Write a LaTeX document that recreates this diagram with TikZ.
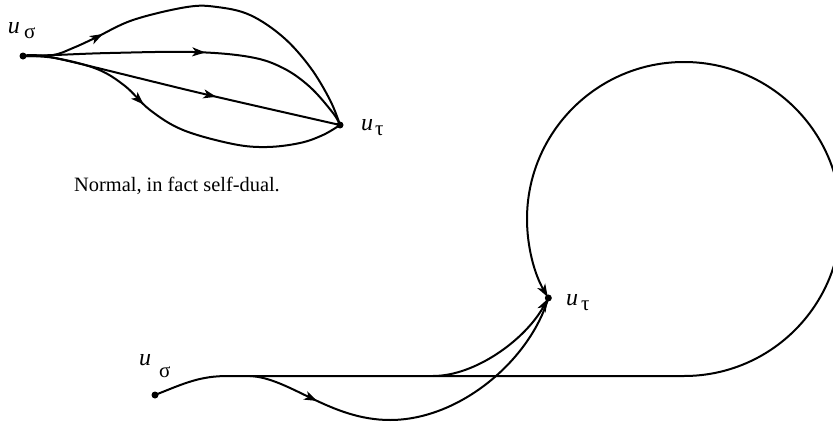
\documentclass[tikz,border=0pt]{standalone}
\usepackage{fontspec}
\setmainfont{Liberation Serif}
\usetikzlibrary{arrows.meta,decorations.markings,calc}
\begin{document}
\begin{tikzpicture}[x=1pt,y=1pt,
  line width=2pt, line cap=round,
  >={Stealth[length=13pt,width=9pt,inset=3.5pt]},
  dot/.style={circle,fill,inner sep=0pt,minimum size=7pt},
  midarrow/.style={postaction={decorate},decoration={markings,mark=at position #1 with {\arrow{>}}}},
  tipend/.style={-{Stealth[length=13pt,width=9pt,inset=3.5pt]}, shorten >=1pt},
  lbl/.style={anchor=base west,inner sep=0pt,font=\fontsize{24}{24}\selectfont},
  subl/.style={anchor=base west,inner sep=0pt,font=\fontsize{21}{21}\selectfont},
  caption/.style={anchor=base,inner sep=0pt,font=\fontsize{20.4}{24}\selectfont}]
\useasboundingbox (0,0) rectangle (833,-423);

% ---------- top graph ----------
\node[dot] (s1) at (23,-56) {};
\node[dot] (t1) at (340,-125) {};
\node[lbl] (ls1u) at (7,-33) {\itshape u};
\node[subl] (ls1s) at (23,-38) {σ};
\node[lbl] (lt1u) at (360,-130) {\itshape u};
\node[subl] (lt1s) at (374,-135) {τ};

\draw[midarrow=0.22] plot[smooth,tension=0.6] coordinates {(s1.center) (53,-55) (73,-48) (95,-38) (133,-20) (187,-7) (217,-7) (250,-15) (283,-37) (310,-67) (330,-100) (t1.center)};
\draw[midarrow=0.53] plot[smooth,tension=0.6] coordinates {(s1.center) (55,-55) (110,-53) (193,-52) (250,-57) (283,-68) (310,-87) (333,-113) (t1.center)};
\draw[midarrow=0.61] plot[smooth,tension=0.5] coordinates {(s1.center) (55,-58) (200,-93) (t1.center)};
\draw[midarrow=0.39] plot[smooth,tension=0.6] coordinates {(s1.center) (55,-58) (97,-69) (125,-86) (150,-110) (183,-130) (233,-144) (267,-147) (300,-143) (323,-135) (t1.center)};

\node[caption] (cap) at (177,-191) {Normal, in fact self-dual.};

% ---------- bottom graph ----------
\coordinate (cc) at (684,-219);
\coordinate (t2) at ($(cc)+(210.2:157pt)$);
\coordinate (hb) at (433,-376);
\coordinate (hc) at (250,-376);
\node[dot] (s2) at (155,-395) {};
\node[dot] (t2d) at (t2) {};
\node[lbl] (ls2u) at (138,-365) {\itshape u};
\node[subl] (ls2s) at (158,-377) {σ};
\node[lbl] (lt2u) at (565,-305) {\itshape u};
\node[subl] (lt2s) at (580,-310) {τ};

\draw[tipend] (s2.center) .. controls (185,-383) and (200,-376) .. (228,-376) -- (684,-376) arc[start angle=-90,end angle=210.2,radius=157pt];
\draw[tipend] (hb) .. controls (475,-376) and (525,-340) .. (t2d.center);
\draw[midarrow=0.2] (hc) .. controls (290,-378) and (330,-420) .. (390,-420) .. controls (460,-420) and (530,-360) .. (t2d.center);
\end{tikzpicture}
\end{document}
